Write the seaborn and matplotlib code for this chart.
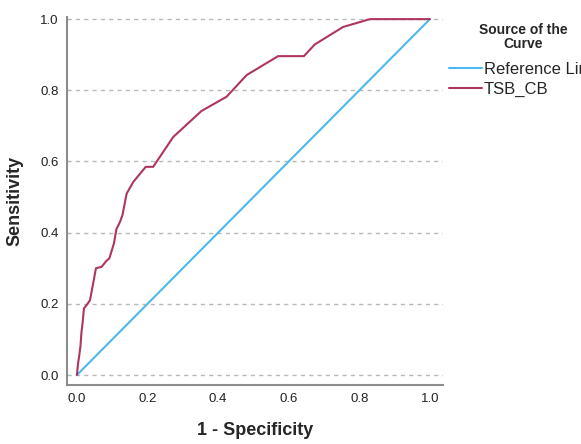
import pandas as pd
import seaborn as sns
import matplotlib.pyplot as plt
import matplotlib.ticker as ticker

# ROC curve (1 - specificity, sensitivity)
FPR = [0.0, 0.003, 0.006, 0.010, 0.013, 0.016, 0.020, 0.030, 0.037, 0.046, 0.054, 0.070,
       0.083, 0.092, 0.105, 0.112, 0.122, 0.129, 0.141, 0.160, 0.195, 0.216, 0.273, 0.353,
       0.424, 0.481, 0.570, 0.643, 0.674, 0.754, 0.830, 1.0]
TPR = [0.0, 0.03, 0.05, 0.08, 0.12, 0.145, 0.187, 0.20, 0.21, 0.257, 0.30, 0.304,
       0.32, 0.328, 0.37, 0.41, 0.43, 0.449, 0.51, 0.543, 0.585, 0.585, 0.669, 0.742,
       0.782, 0.843, 0.896, 0.896, 0.929, 0.978, 1.0, 1.0]
REF_X = [0.0, 1.0]
REF_Y = [0.0, 1.0]
SERIES = ['Reference Line', 'TSB_CB']
COLORS = {'Reference Line': '#4DB8F0', 'TSB_CB': '#AE3462'}
TICKS = [0.0, 0.2, 0.4, 0.6, 0.8, 1.0]

sns.set_style('white')
plt.rcParams['font.family'] = ['Liberation Sans', 'DejaVu Sans']

df = pd.concat([
    pd.DataFrame({'x': REF_X, 'y': REF_Y, 'source': SERIES[0]}),
    pd.DataFrame({'x': FPR, 'y': TPR, 'source': SERIES[1]}),
]).reset_index(drop=True)

fig = plt.figure(figsize=(5.81, 4.44), dpi=100)
ax = fig.add_axes([67/581, 1 - 385/444, (443 - 67)/581, (385 - 17)/444])

sns.lineplot(data=df, x='x', y='y', hue='source', hue_order=SERIES, palette=COLORS,
             sort=False, estimator=None, linewidth=1.5, ax=ax, legend=True)

ax.set_xlim(-0.028, 1.037)
ax.set_ylim(-0.028, 1.006)
ax.xaxis.set_major_locator(ticker.FixedLocator(TICKS))
ax.yaxis.set_major_locator(ticker.FixedLocator(TICKS))
ax.xaxis.set_major_formatter(ticker.FormatStrFormatter('%.1f'))
ax.yaxis.set_major_formatter(ticker.FormatStrFormatter('%.1f'))
ax.tick_params(length=0, labelsize=9.5, pad=6, colors='#222222')
ax.yaxis.grid(True, linestyle=(0, (3, 3)), color='#b8b8b8', linewidth=1)
ax.xaxis.grid(False)
for side in ['top', 'right']:
    ax.spines[side].set_visible(False)
for side in ['left', 'bottom']:
    ax.spines[side].set_color('#8c8c8c')
    ax.spines[side].set_linewidth(1.5)

ax.set_xlabel('1 - Specificity', fontsize=13, fontweight='bold', labelpad=12)
ax.set_ylabel('Sensitivity', fontsize=13, fontweight='bold', labelpad=12)

# legend sits right of the axes; the long label runs off the edge as in the source
handles, labels = ax.get_legend_handles_labels()
ax.get_legend().remove()
leg = fig.legend(handles, labels, loc='upper left', bbox_to_anchor=(444/581, 1 - 18/444),
                 frameon=False, fontsize=12, title='Source of the\nCurve',
                 title_fontproperties={'weight': 'bold', 'size': 10},
                 handlelength=2.0, handletextpad=0.1, labelspacing=0.28, borderaxespad=0,
                 borderpad=0.3)
leg.get_title().set_multialignment('center')
leg.get_title().set_linespacing(1.0)
leg._legend_box.sep = 8

plt.savefig('out.png', dpi=100)
